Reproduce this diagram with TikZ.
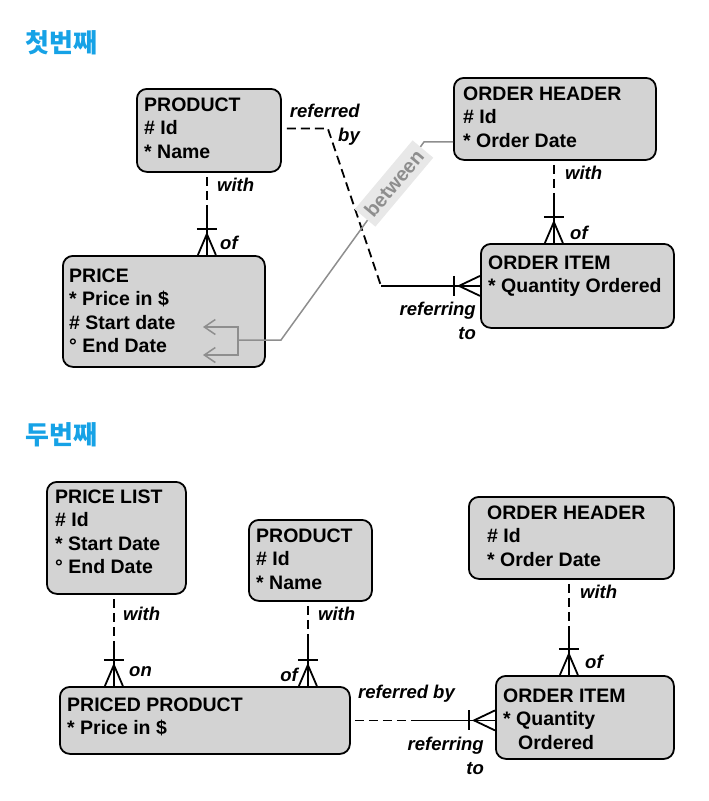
\documentclass[tikz,border=0pt]{standalone}
\usepackage{fontspec}
\setmainfont{Liberation Sans}
\newfontfamily\krfont{Noto Sans CJK KR}
\usetikzlibrary{arrows.meta,calc}
\definecolor{boxfill}{HTML}{D3D3D3}
\definecolor{titleblue}{HTML}{16A2E6}
\definecolor{gline}{HTML}{8E8E8E}
\definecolor{gfill}{HTML}{E8E8E8}
\definecolor{gtext}{HTML}{8E8E8E}
\tikzset{
  ent/.style={draw=black, line width=1.8pt, fill=boxfill, rounded corners=10pt, inner sep=0pt},
  enttext/.style={inner sep=0pt, font=\bfseries\fontsize{19.5}{23.5}\selectfont},
  lbl/.style={inner sep=0pt, font=\bfseries\itshape\fontsize{18.5}{24}\selectfont},
  rel/.style={line width=1.8pt, draw=black},
  reldash/.style={rel, dash pattern=on 9pt off 5pt},
  gl/.style={line width=1.5pt, draw=gline},
  betw/.style={fill=gfill, text=gtext, font=\bfseries\fontsize{20}{22}\selectfont, inner xsep=5pt, inner ysep=3pt, minimum height=27pt},
  ttlstyle/.style={inner sep=0pt, text=titleblue, font=\krfont\bfseries\fontsize{26}{30}\selectfont}
}
\newcommand\entity[8]{%
  \node[ent, minimum width=#4pt, minimum height=#5pt, anchor=north west] (#1) at (#2,#3) {};
  \node[enttext, anchor=base west] (#1-t) at ({#2+#6},{#3+#7}) {\parbox[t]{#4pt}{\fontsize{19.5}{23.5}\selectfont\raggedright #8}};
}
\newcommand\crowdown[1]{%
  \draw[rel] ($(#1)+(-9,0)$) -- ($(#1)+(0,-21)$) -- ($(#1)+(9,0)$);
  \draw[rel] ($(#1)+(-10,-26)$) -- ($(#1)+(10,-26)$);
}
\newcommand\crowright[1]{%
  \draw[rel] ($(#1)+(0,-10)$) -- ($(#1)+(-21,0)$) -- ($(#1)+(0,10)$);
  \draw[rel] ($(#1)+(-26,-10)$) -- ($(#1)+(-26,10)$);
}
\begin{document}
\begin{tikzpicture}[x=1pt,y=-1pt]
\useasboundingbox (0,0) rectangle (709,801);

% titles
\node[ttlstyle, anchor=west] (t1) at (25,43) {첫번째};
\node[ttlstyle, anchor=west] (t2) at (25,435) {두번째};

% ---------- top diagram ----------
\entity{p1}{136}{88}{144}{83}{8}{23}{PRODUCT\\{}\# Id\\{}* Name}
\entity{oh1}{453}{77}{202}{82}{10}{23}{ORDER HEADER\\{}\# Id\\{}* Order Date}
\entity{oi1}{480}{243}{193}{84}{8}{26}{ORDER ITEM\\{}* Quantity Ordered}
\entity{pr1}{62}{255}{202}{111}{7}{27}{PRICE\\{}* Price in \$\\{}\# Start date\\{}° End Date}

% PRODUCT - PRICE
\draw[reldash] ($(p1.south)+(-2,4)$) -- ($(p1.south)+(-2,34)$) coordinate (m1);
\draw[rel] (m1) -- (m1 |- pr1.north) coordinate (e1);
\crowdown{e1}
\node[lbl, anchor=west] (l1) at (217,185) {with};
\node[lbl, anchor=west] (l2) at (220,243) {of};

% ORDER HEADER - ORDER ITEM
\draw[reldash] ($(oh1.south)+(-1,4)$) -- ($(oh1.south)+(-1,38)$) coordinate (m2);
\draw[rel] (m2) -- (m2 |- oi1.north) coordinate (e2);
\crowdown{e2}
\node[lbl, anchor=west] (l3) at (565,173) {with};
\node[lbl, anchor=west] (l4) at (570,233) {of};

% PRODUCT - ORDER ITEM
\draw[reldash] ($(p1.east)+(5,-2)$) -- ++(41,0) -- ($(oi1.west)+(-99,0)$) coordinate (m3);
\draw[rel] (m3) -- (oi1.west);
\crowright{oi1.west}
\node[lbl, align=right, anchor=east] (l5) at (360,125) {referred\\by};
\node[lbl, align=right, anchor=east] (l6) at (476,321) {referring\\to};

% between annotation
\coordinate (bk) at (238,340);
\coordinate (bt) at (203,327);
\coordinate (bb) at (203,355);
\draw[gl] ($(oh1.west)+(0,23)$) -- ++(-29,0) -- node[betw, rotate=50, pos=0.21] (bw) {between} (281,340) coordinate (bm) -- (bk);
\draw[gl, -{Straight Barb[length=11pt,width=15pt]}] (bk) |- (bt);
\draw[gl, -{Straight Barb[length=11pt,width=15pt]}] (bk) |- (bb);

% ---------- bottom diagram ----------
\entity{pl2}{46}{481}{139}{112}{9}{22}{PRICE LIST\\{}\# Id\\{}* Start Date\\{}° End Date}
\entity{p2}{248}{519}{123}{81}{8}{23}{PRODUCT\\{}\# Id\\{}* Name}
\entity{oh2}{468}{496}{205}{82}{19}{23}{ORDER HEADER\\{}\# Id\\{}* Order Date}
\entity{oi2}{495}{675}{178}{83}{8}{27}{ORDER ITEM\\{}* Quantity\\\hspace*{15pt}Ordered}
\entity{pp2}{59}{686}{290}{67}{8}{25}{PRICED PRODUCT\\{}* Price in \$}

% PRICE LIST - PRICED PRODUCT
\draw[reldash] ($(pl2.south)+(-2.5,4)$) -- ($(pl2.south)+(-2.5,47)$) coordinate (m5);
\draw[rel] (m5) -- (m5 |- pp2.north) coordinate (e5);
\crowdown{e5}
\node[lbl, anchor=west] (l7) at (123,614) {with};
\node[lbl, anchor=west] (l8) at (129,672) {on};

% PRODUCT - PRICED PRODUCT
\draw[reldash] ($(p2.south)+(-2.5,4)$) -- ($(p2.south)+(-2.5,40)$) coordinate (m6);
\draw[rel] (m6) -- (m6 |- pp2.north) coordinate (e6);
\crowdown{e6}
\node[lbl, anchor=west] (l9) at (318,614) {with};
\node[lbl, anchor=east] (l10) at (298,675) {of};

% ORDER HEADER - ORDER ITEM
\draw[reldash] ($(oh2.south)+(-2.5,4)$) -- ($(oh2.south)+(-2.5,49)$) coordinate (m7);
\draw[rel] (m7) -- (m7 |- oi2.north) coordinate (e7);
\crowdown{e7}
\node[lbl, anchor=west] (l11) at (580,592) {with};
\node[lbl, anchor=west] (l12) at (585,662) {of};

% PRICED PRODUCT - ORDER ITEM
\draw[reldash] ($(pp2.east)+(4,0)$) -- ($(pp2.east)+(68,0)$) coordinate (m8);
\draw[rel] (m8) -- (m8 -| oi2.west) coordinate (e8);
\crowright{e8}
\node[lbl, anchor=west] (l13) at (358,694) {referred by};
\node[lbl, align=right, anchor=east] (l14) at (484,756) {referring\\to};
\end{tikzpicture}
\end{document}
